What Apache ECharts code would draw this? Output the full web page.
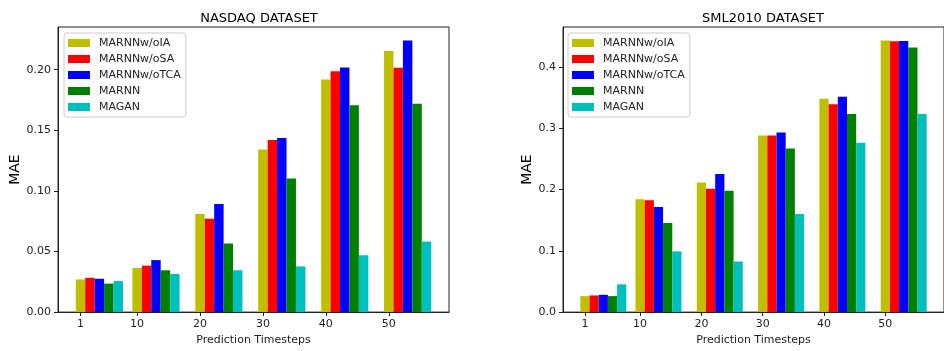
<!DOCTYPE html>
<html>
<head>
<meta charset="utf-8">
<script src="https://cdn.jsdelivr.net/npm/echarts@6/dist/echarts.min.js"></script>
<style>
  html, body { margin: 0; padding: 0; background: #fff; }
  #main { width: 944px; height: 351px; }
</style>
</head>
<body>
<div id="main"></div>
<script>
// prediction timesteps (x positions of the groups)
var steps = [1, 10, 20, 30, 40, 50];
var seriesNames = ['MARNNw/oIA', 'MARNNw/oSA', 'MARNNw/oTCA', 'MARNN', 'MAGAN'];
var colors = ['#bfbf00', '#ff0000', '#0000ff', '#008000', '#00bfbf'];

// NASDAQ MAE
var nasdaqIA  = [0.0269, 0.0364, 0.0809, 0.1342, 0.1919, 0.2153];
var nasdaqSA  = [0.0283, 0.0383, 0.0771, 0.1420, 0.1986, 0.2016];
var nasdaqTCA = [0.0275, 0.0429, 0.0892, 0.1436, 0.2018, 0.2240];
var nasdaqMARNN = [0.0235, 0.0345, 0.0566, 0.1102, 0.1706, 0.1719];
var nasdaqMAGAN = [0.0256, 0.0315, 0.0345, 0.0377, 0.0469, 0.0582];

// SML2010 MAE
var smlIA  = [0.0261, 0.1843, 0.2115, 0.2882, 0.3484, 0.4432];
var smlSA  = [0.0272, 0.1827, 0.2013, 0.2882, 0.3393, 0.4421];
var smlTCA = [0.0282, 0.1715, 0.2253, 0.2930, 0.3515, 0.4426];
var smlMARNN = [0.0261, 0.1454, 0.1981, 0.2669, 0.3233, 0.4320];
var smlMAGAN = [0.0453, 0.0991, 0.0826, 0.1603, 0.2764, 0.3233];

var nasdaqTicks = [0, 0.05, 0.10, 0.15, 0.20];
var smlTicks = [0, 0.1, 0.2, 0.3, 0.4];

var barW = 1.5;
var font = 'DejaVu Sans';

var chart = echarts.init(document.getElementById('main'));

function makeSeries(lists, idx) {
  return lists.map(function (vals, i) {
    return {
      name: seriesNames[i],
      type: 'custom',
      xAxisIndex: idx,
      yAxisIndex: idx,
      itemStyle: { color: colors[i] },
      data: vals.map(function (v, k) { return [steps[k] + i * barW, v]; }),
      renderItem: function (params, api) {
        var x = api.value(0), y = api.value(1);
        var p0 = api.coord([x - barW / 2, y]);
        var p1 = api.coord([x + barW / 2, 0]);
        return {
          type: 'rect',
          shape: { x: p0[0], y: p0[1], width: p1[0] - p0[0], height: p1[1] - p0[1] },
          style: { fill: colors[i] }
        };
      }
    };
  });
}

function xAxis(idx) {
  return {
    type: 'value', gridIndex: idx, min: -2.575, max: 59.575,
    splitLine: { show: false },
    axisLine: { onZero: false, lineStyle: { color: '#222' } },
    axisTick: { length: 4, lineStyle: { color: '#222' }, customValues: steps },
    axisLabel: { color: '#222', fontFamily: font, fontSize: 11, margin: 7, customValues: steps },
    name: 'Prediction Timesteps', nameLocation: 'middle', nameGap: 21,
    nameTextStyle: { color: '#222', fontFamily: font, fontSize: 11 }
  };
}

function yAxis(idx, max, ticks, digits, gap) {
  return {
    type: 'value', gridIndex: idx, min: 0, max: max,
    splitLine: { show: false },
    axisLine: { show: true, onZero: false, lineStyle: { color: '#222' } },
    axisTick: { show: true, length: 4, lineStyle: { color: '#222' }, customValues: ticks },
    axisLabel: {
      color: '#222', fontFamily: font, fontSize: 11, margin: 7, customValues: ticks,
      formatter: function (v) { return v.toFixed(digits); }
    },
    name: 'MAE', nameLocation: 'middle', nameGap: gap, nameRotate: 90,
    nameTextStyle: { color: '#000', fontFamily: font, fontSize: 14 }
  };
}

function legend(left) {
  return {
    orient: 'vertical', left: left, top: 33,
    data: seriesNames, icon: 'rect',
    itemWidth: 22, itemHeight: 8, itemGap: 4,
    padding: [4, 5, 4, 4],
    borderColor: '#ccc', borderWidth: 1, borderRadius: 3,
    backgroundColor: 'rgba(255,255,255,0.8)',
    textStyle: { fontFamily: font, fontSize: 11, color: '#222', lineHeight: 12, padding: [0, 0, 0, 4] }
  };
}

var option = {
  animation: false,
  title: [
    { text: 'NASDAQ DATASET', left: 254, top: 7, textAlign: 'center',
      textStyle: { fontFamily: font, fontSize: 13, fontWeight: 'normal', color: '#000' } },
    { text: 'SML2010 DATASET', left: 758, top: 7, textAlign: 'center',
      textStyle: { fontFamily: font, fontSize: 13, fontWeight: 'normal', color: '#000' } }
  ],
  legend: [
    Object.assign(legend(64), { id: 'l0' }),
    Object.assign(legend(568), { id: 'l1' })
  ],
  grid: [
    { left: 58, top: 27, width: 391, height: 291, show: true, borderColor: '#222', borderWidth: 1 },
    { left: 563, top: 27, width: 390, height: 291, show: true, borderColor: '#222', borderWidth: 1 }
  ],
  xAxis: [xAxis(0), xAxis(1)],
  yAxis: [
    yAxis(0, 0.2352, nasdaqTicks, 2, 34),
    yAxis(1, 0.4654, smlTicks, 1, 29)
  ],
  series: makeSeries([nasdaqIA, nasdaqSA, nasdaqTCA, nasdaqMARNN, nasdaqMAGAN], 0)
    .concat(makeSeries([smlIA, smlSA, smlTCA, smlMARNN, smlMAGAN], 1))
};

chart.setOption(option);
</script>
</body>
</html>
